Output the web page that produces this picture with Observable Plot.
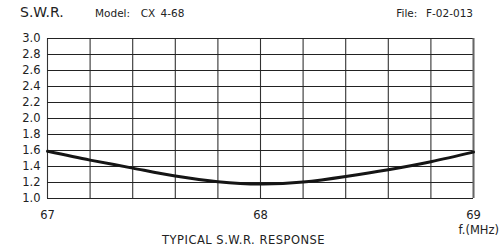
<!DOCTYPE html>
<html>
<head>
<meta charset="utf-8">
<script src="https://cdn.jsdelivr.net/npm/d3@7"></script>
<script src="https://cdn.jsdelivr.net/npm/@observablehq/plot@0.6"></script>
<style>
  html, body { margin: 0; padding: 0; background: #fff; }
  #wrap { position: relative; width: 499px; height: 248px; overflow: hidden; font-family: "DejaVu Sans", sans-serif; color: #222; }
  .t { position: absolute; white-space: nowrap; line-height: 1; }
</style>
</head>
<body>
<div id="wrap">
  <div class="t" style="left:20px; top:5px; font-size:14px;">S.W.R.</div>
  <div class="t" style="left:95px; top:8px; font-size:10.5px; word-spacing:2px;">Model:&nbsp; CX 4-68</div>
  <div class="t" style="right:26px; top:8px; font-size:10.5px; word-spacing:1px;">File:&nbsp; F-02-013</div>
  <div class="t" style="right:0px; top:225px; font-size:11.5px;">f.(MHz)</div>
  <div class="t" style="left:162px; top:235px; font-size:11.5px; letter-spacing:0.5px;">TYPICAL S.W.R. RESPONSE</div>
  <div id="chart" style="position:absolute; left:0; top:0;"></div>
</div>
<script>
const freq = [67.0, 67.2, 67.4, 67.6, 67.8, 68.0, 68.2, 68.4, 68.6, 68.8, 69.0];
const swr  = [1.59, 1.48, 1.38, 1.28, 1.21, 1.18, 1.205, 1.275, 1.36, 1.46, 1.58];
const xGrid = [67.0, 67.2, 67.4, 67.6, 67.8, 68.0, 68.2, 68.4, 68.6, 68.8, 69.0];
const yGrid = [1.0, 1.2, 1.4, 1.6, 1.8, 2.0, 2.2, 2.4, 2.6, 2.8, 3.0];
const xTicks = [67, 68, 69];

const data = freq.map((f, i) => ({f, s: swr[i]}));

const chart = Plot.plot({
  width: 499,
  height: 248,
  marginTop: 38,
  marginBottom: 50,
  marginLeft: 47,
  marginRight: 26,
  style: {fontFamily: "DejaVu Sans, sans-serif", fontSize: "11px", color: "#222", background: "transparent"},
  x: {domain: [67, 69], label: null},
  y: {domain: [1.0, 3.0], label: null},
  marks: [
    Plot.ruleX(xGrid, {stroke: "#333", strokeWidth: 1.1}),
    Plot.ruleY(yGrid, {stroke: "#222", strokeWidth: 1.1}),
    Plot.ruleX([69], {stroke: "#666", strokeWidth: 2}),
    Plot.line(data, {x: "f", y: "s", curve: "natural", stroke: "#151515", strokeWidth: 3}),
    Plot.axisX({ticks: xTicks, tickSize: 0, tickPadding: 12, tickFormat: d => String(d), fontSize: 11.5, label: null}),
    Plot.axisY({ticks: yGrid, tickSize: 0, tickPadding: 7, tickFormat: d3.format(".1f"), fontSize: 11.5, label: null})
  ]
});
document.getElementById("chart").appendChild(chart);
</script>
</body>
</html>
